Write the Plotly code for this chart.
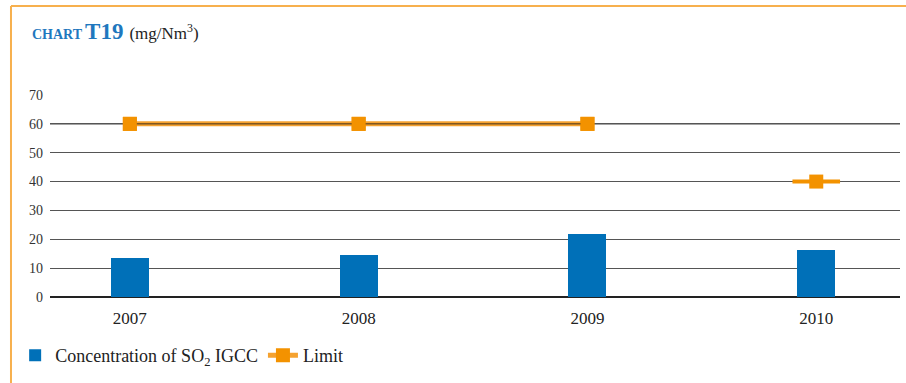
import plotly.graph_objects as go

years = ["2007", "2008", "2009", "2010"]
so2_values = [13.5, 14.5, 22, 16.3]
limit_values = [60, 60, 60, 40]
y_ticks = [0, 10, 20, 30, 40, 50, 60, 70]

BLUE = "#0070B8"
ORANGE = "#F39200"
BORDER = "#F7B04E"
FONT = "Liberation Serif, DejaVu Serif, serif"

xs = list(range(len(years)))

fig = go.Figure()
fig.add_trace(go.Bar(x=xs, y=so2_values, width=0.166, marker=dict(color=BLUE, line=dict(width=0)),
                     name="Concentration of SO<sub>2</sub> IGCC"))
# Limit 2007-2009 (connected)
fig.add_trace(go.Scatter(x=xs[:3], y=limit_values[:3], mode="lines+markers", name="Limit",
                         line=dict(color="#F5A230", width=5),
                         marker=dict(symbol="square", size=14, color=ORANGE)))
fig.add_trace(go.Scatter(x=xs[:3], y=limit_values[:3], mode="lines", showlegend=False,
                         line=dict(color="#111", width=0.8), hoverinfo="skip"))
fig.add_trace(go.Scatter(x=xs[:3], y=limit_values[:3], mode="markers", showlegend=False,
                         marker=dict(symbol="square", size=14, color=ORANGE), hoverinfo="skip"))
# Limit 2010 (separate)
fig.add_trace(go.Scatter(x=xs[3:], y=limit_values[3:], mode="markers", showlegend=False,
                         marker=dict(symbol="line-ew", size=34, line=dict(color=ORANGE, width=4))))
fig.add_trace(go.Scatter(x=xs[3:], y=limit_values[3:], mode="markers", showlegend=False,
                         marker=dict(symbol="square", size=14, color=ORANGE)))

fig.update_layout(
    width=906, height=383,
    margin=dict(l=50, r=6, t=95, b=86),
    paper_bgcolor="white", plot_bgcolor="white",
    font=dict(family=FONT, color="#222"),
    bargap=0,
    legend=dict(orientation="h", x=-0.041, y=-0.29, xanchor="left", yanchor="middle",
                font=dict(size=18, family=FONT, color="#222"), itemwidth=30,
                traceorder="normal", bgcolor="rgba(0,0,0,0)"),
    xaxis=dict(range=[-0.349, 3.366], tickvals=xs, ticktext=years, showgrid=False,
               zeroline=False, showline=False, ticks="outside", ticklen=6,
               tickcolor="rgba(0,0,0,0)", tickfont=dict(size=17, family=FONT, color="#222")),
    yaxis=dict(range=[0, 70], tickvals=y_ticks, showgrid=True, gridcolor="#555555", gridwidth=1,
               zeroline=True, zerolinecolor="#222", zerolinewidth=1.5, showline=False,
               ticks="", ticklabelstandoff=6, tickfont=dict(size=14, family=FONT, color="#333")),
    showlegend=True,
)

# gridline at 60 drawn in black
fig.add_shape(type="line", xref="paper", yref="y", x0=0, x1=1, y0=60, y1=60,
              line=dict(color="black", width=1), layer="below")

# Frame border (left and top)
fig.add_shape(type="line", xref="paper", yref="paper", x0=-0.0459, x1=-0.0459, y0=1.4406, y1=-0.43,
              line=dict(color=BORDER, width=2))
fig.add_shape(type="line", xref="paper", yref="paper", x0=-0.0459, x1=1.01, y0=1.4406, y1=1.4406,
              line=dict(color=BORDER, width=2))

fig.add_annotation(xref="paper", yref="paper", x=-0.0235, y=1.315, xanchor="left", yanchor="middle",
                   showarrow=False,
                   text="<b><span style='color:#1F78BE;font-size:14px'>CHART</span> "
                        "<span style='color:#1F78BE;font-size:23px'>T19</span></b>  "
                        "<span style='font-size:17px;color:#222'>(mg/Nm<sup>3</sup>)</span>",
                   font=dict(family=FONT))

fig.write_html("out.html")
